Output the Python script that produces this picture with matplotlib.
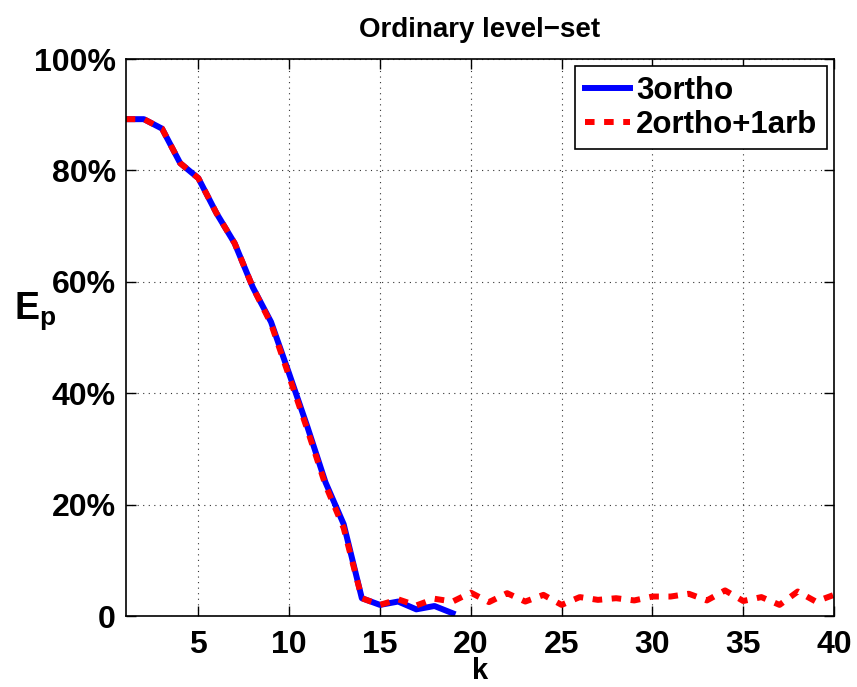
import matplotlib
matplotlib.use("Agg")
import matplotlib.pyplot as plt

k_blue = list(range(1, 20))
ortho3 = [89.2, 89.2, 87.5, 81.3, 78.6, 72.3, 66.9, 59.0, 52.8, 43.5,
          34.0, 24.0, 16.5, 3.2, 2.0, 2.6, 1.2, 1.8, 0.5]
k_red = list(range(1, 41))
ortho2arb1 = [89.2, 89.2, 87.5, 81.3, 78.6, 72.3, 66.9, 59.0, 52.5, 43.0,
              33.5, 23.5, 15.8, 3.2, 2.0, 3.0, 1.9, 3.1, 2.6, 4.2,
              2.5, 4.1, 2.6, 3.8, 2.0, 3.4, 2.9, 3.2, 2.8, 3.5,
              3.5, 4.0, 2.8, 4.6, 2.7, 3.4, 2.0, 4.4, 2.6, 3.8]
yticks = [0, 20, 40, 60, 80, 100]
ytick_labels = ["0", "20%", "40%", "60%", "80%", "100%"]
xticks = [5, 10, 15, 20, 25, 30, 35, 40]

plt.rcParams['font.family'] = ['Liberation Sans', 'DejaVu Sans']
plt.rcParams['font.weight'] = 'bold'
plt.rcParams['mathtext.fontset'] = 'custom'
plt.rcParams['mathtext.rm'] = 'Liberation Sans:bold'
plt.rcParams['mathtext.bf'] = 'Liberation Sans:bold'
plt.rcParams['mathtext.it'] = 'Liberation Sans:bold'

fig = plt.figure(figsize=(8.57, 6.87), dpi=100)
ax = fig.add_axes([0.1467, 0.1033, 0.8265, 0.8108])

ax.plot(k_blue, ortho3, color='#0000ff', lw=4.3, label='3ortho')
ax.plot(k_red, ortho2arb1, color='#ff0000', lw=4.3, ls=(0, (1.6, 1.6)),
        label='2ortho+1arb')

ax.set_xlim(1, 40)
ax.set_ylim(0, 100)
ax.set_xticks(xticks)
ax.set_yticks(yticks)
ax.set_yticklabels(ytick_labels)
ax.tick_params(which='both', direction='in', top=True, right=True,
               labelsize=23, width=1.0)
ax.tick_params(which='major', length=7, pad=7)
ax.tick_params(axis='x', which='major', pad=10)
for lab in ax.get_xticklabels() + ax.get_yticklabels():
    lab.set_fontweight('bold')

ax.grid(True, which='major', ls=(0, (1, 4)), color='#333333', lw=0.8)
for s in ax.spines.values():
    s.set_linewidth(1.2)

ax.set_title('Ordinary level\u2212set', fontsize=20, fontweight='bold', pad=16)
ax.set_xlabel('k', fontsize=21, fontweight='bold', labelpad=-2)
ax.set_ylabel(r'$\mathrm{E_p}$', fontsize=27, rotation=0)
ax.yaxis.set_label_coords(-0.128, 0.51)

leg = ax.legend(loc='upper right', fontsize=22.5, frameon=True, fancybox=False,
                edgecolor='black', framealpha=1, handlelength=1.45,
                borderpad=0.3, labelspacing=0.14, handletextpad=0.2,
                borderaxespad=0.0, bbox_to_anchor=(0.990, 0.987))
leg.get_frame().set_linewidth(1.2)
for t in leg.get_texts():
    t.set_fontweight('bold')

fig.savefig('out.png', dpi=100)
